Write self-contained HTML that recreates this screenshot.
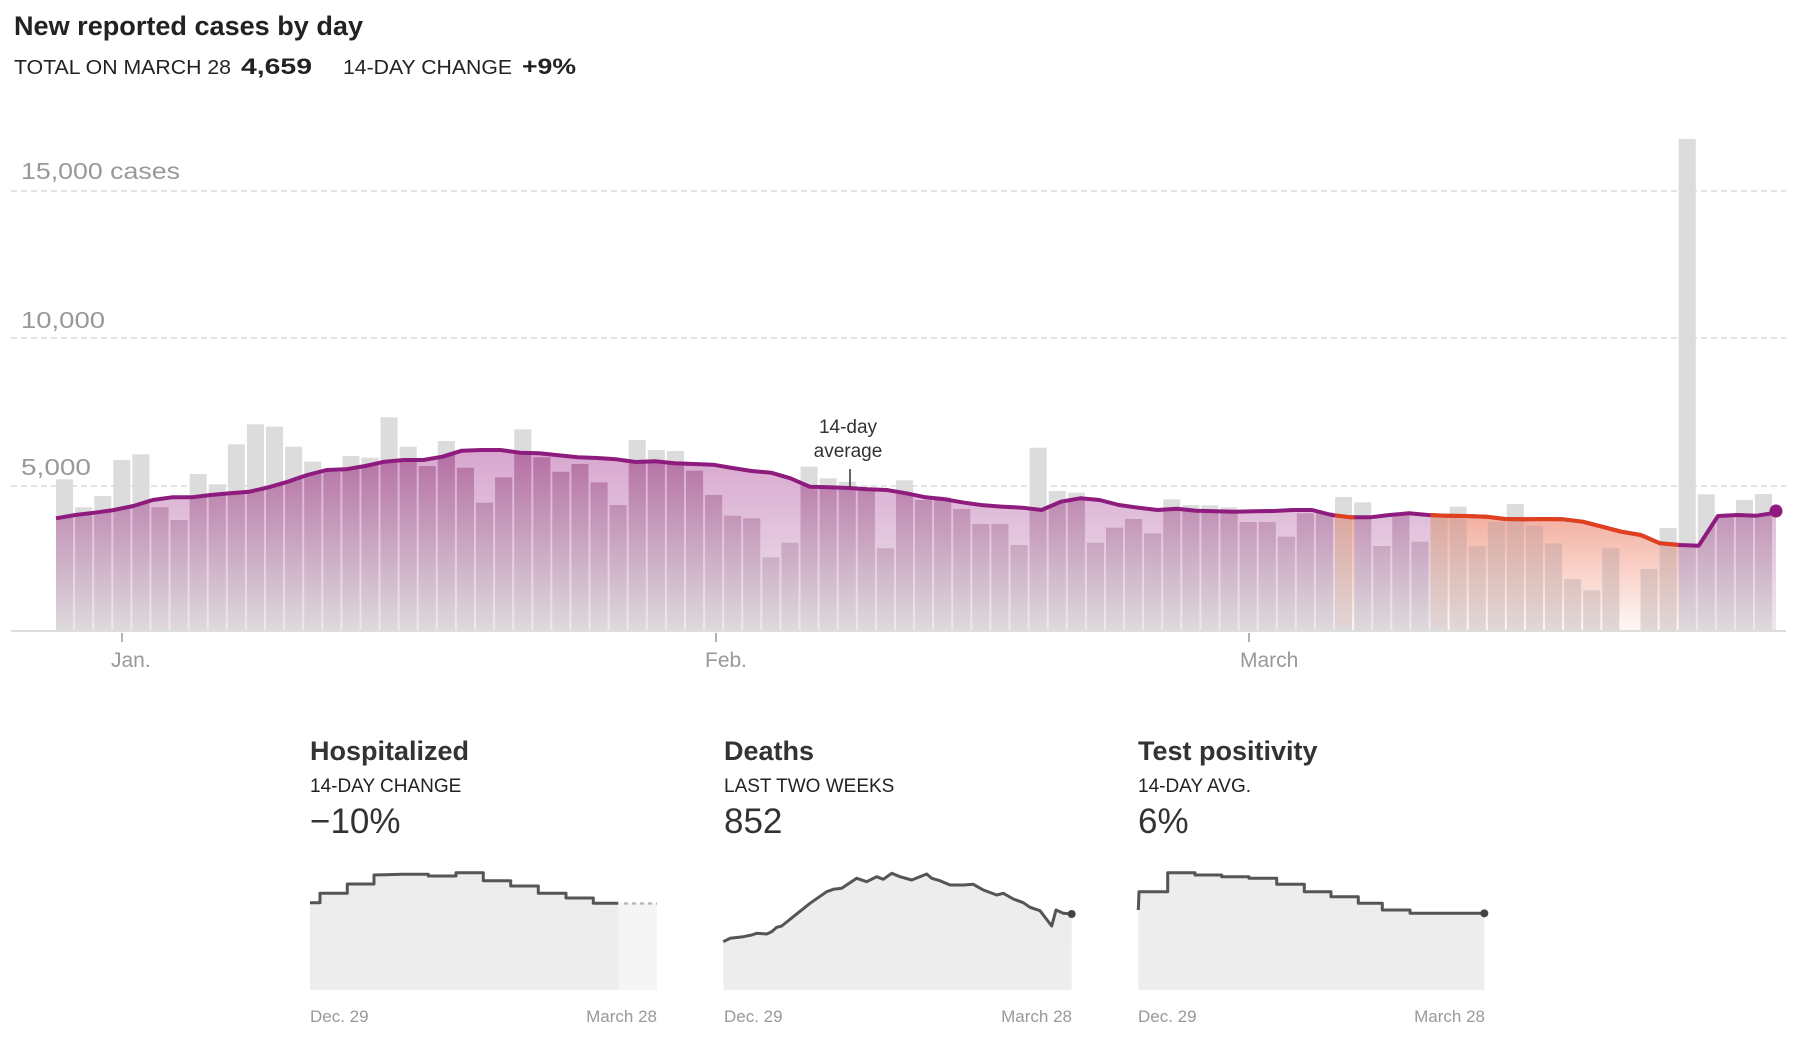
<!DOCTYPE html>
<html><head><meta charset="utf-8"><style>
html,body{margin:0;padding:0;background:#fff;width:1800px;height:1039px;overflow:hidden}
svg{display:block}
text{font-family:"Liberation Sans",sans-serif}
</style></head><body>
<svg id="s" width="1800" height="1039" viewBox="0 0 1800 1039" xmlns="http://www.w3.org/2000/svg">
<defs>
<linearGradient id="gBar" gradientUnits="userSpaceOnUse" x1="0" y1="420" x2="0" y2="631"><stop offset="0" stop-color="#ad5b99"/><stop offset="1" stop-color="#dedadd"/></linearGradient>
<linearGradient id="gArea" gradientUnits="userSpaceOnUse" x1="0" y1="420" x2="0" y2="631"><stop offset="0" stop-color="#d49bca"/><stop offset="1" stop-color="#efe9ed"/></linearGradient>
<linearGradient id="rBar" gradientUnits="userSpaceOnUse" x1="0" y1="500" x2="0" y2="631"><stop offset="0" stop-color="#dba096"/><stop offset="1" stop-color="#e0d8d8"/></linearGradient>
<linearGradient id="rArea" gradientUnits="userSpaceOnUse" x1="0" y1="500" x2="0" y2="631"><stop offset="0" stop-color="#f2a595"/><stop offset="1" stop-color="#fff8f6"/></linearGradient>
</defs>
<text x="14" y="35" font-size="27" font-weight="bold" fill="#222" textLength="349" lengthAdjust="spacingAndGlyphs">New reported cases by day</text>
<text x="14" y="74" font-size="20" fill="#222" textLength="217" lengthAdjust="spacingAndGlyphs">TOTAL ON MARCH 28</text>
<text x="241" y="74" font-size="22" font-weight="bold" fill="#222" textLength="71" lengthAdjust="spacingAndGlyphs">4,659</text>
<text x="343" y="74" font-size="20" fill="#222" textLength="169" lengthAdjust="spacingAndGlyphs">14-DAY CHANGE</text>
<text x="522" y="74" font-size="22" font-weight="bold" fill="#222" textLength="54" lengthAdjust="spacingAndGlyphs">+9%</text>
<g stroke="#d4d4d4" stroke-width="1.3" stroke-dasharray="6,4">
<line x1="11" y1="191" x2="1786" y2="191"/><line x1="11" y1="338" x2="1786" y2="338"/><line x1="11" y1="486" x2="1786" y2="486"/></g>
<text x="21" y="179" font-size="23" fill="#999" textLength="159" lengthAdjust="spacingAndGlyphs">15,000 cases</text>
<text x="21" y="328" font-size="23" fill="#999" textLength="84" lengthAdjust="spacingAndGlyphs">10,000</text>
<text x="21" y="475" font-size="23" fill="#999" textLength="70" lengthAdjust="spacingAndGlyphs">5,000</text>
<g id="chart"></g>
<line x1="11" y1="631" x2="1786" y2="631" stroke="#ddd" stroke-width="2"/>
<g stroke="#999" stroke-width="1.5"><line x1="122" y1="633" x2="122" y2="642"/><line x1="716" y1="633" x2="716" y2="642"/><line x1="1249" y1="633" x2="1249" y2="642"/></g>
<g font-size="21" fill="#999"><text x="111" y="667">Jan.</text><text x="705" y="667">Feb.</text><text x="1240" y="667">March</text></g>
<text x="848" y="433" font-size="19" fill="#333" text-anchor="middle">14-day</text>
<text x="848" y="457" font-size="19" fill="#333" text-anchor="middle">average</text>
<line x1="850" y1="469" x2="850" y2="487" stroke="#333" stroke-width="1.5"/>

<g fill="#222">
<text x="310" y="760" font-size="27" font-weight="bold" fill="#333">Hospitalized</text>
<text x="310" y="792" font-size="19">14-DAY CHANGE</text>
<text x="310" y="833" font-size="35" fill="#333">−10%</text>
<text x="724" y="760" font-size="27" font-weight="bold" fill="#333">Deaths</text>
<text x="724" y="792" font-size="19">LAST TWO WEEKS</text>
<text x="724" y="833" font-size="35" fill="#333">852</text>
<text x="1138" y="760" font-size="27" font-weight="bold" fill="#333">Test positivity</text>
<text x="1138" y="792" font-size="19">14-DAY AVG.</text>
<text x="1138" y="833" font-size="35" fill="#333">6%</text>
</g>
<g font-size="17" fill="#999">
<text x="310" y="1022">Dec. 29</text><text x="657" y="1022" text-anchor="end">March 28</text>
<text x="724" y="1022">Dec. 29</text><text x="1072" y="1022" text-anchor="end">March 28</text>
<text x="1138" y="1022">Dec. 29</text><text x="1485" y="1022" text-anchor="end">March 28</text>
</g>
<g id="sm"></g>
</svg>
<script>
var NS="http://www.w3.org/2000/svg";
function el(t,a,p){var e=document.createElementNS(NS,t);for(var k in a)e.setAttribute(k,a[k]);(p||document.getElementById('chart')).appendChild(e);return e;}
var bz=[238,322,288,180,163,322,360,222,253,133,73,80,140,185,215,168,173,52,140,198,123,203,308,232,88,172,215,192,247,315,120,150,153,212,285,347,355,472,428,200,235,245,272,445,241,300,290,327,372,372,435,143,273,278,428,383,357,400,298,315,316,322,366,366,410,340,336,291,307,438,345,425,350,320,438,365,312,377,430,537,571,445,null,507,384,-783,283,345,300,282];
var lz=[355,345,338,330,318,300,292,292,285,280,275,262,245,225,210,208,198,185,180,180,170,152,150,150,158,160,166,172,174,178,186,184,190,192,194,204,213,218,235,260,262,264,268,270,280,292,298,308,316,320,323,330,305,295,300,315,323,330,326,332,334,335,334,333,330,330,345,352,352,345,340,345,347,348,350,357,358,357,358,365,380,395,405,430,435,437,348,345,347,338];
var step=19.09,x0=56,base=631;
var g=document.getElementById('chart');
var defs=document.querySelector('defs');
var pts=[];for(var i=0;i<90;i++){pts.push([x0+i*(1776-x0)/89,400+lz[i]/3]);}
var lineD="M"+pts.map(function(p){return p[0].toFixed(1)+","+p[1].toFixed(1)}).join("L");
var areaD=lineD+"L"+pts[89][0]+","+base+"L"+x0+","+base+"Z";
var cp=el('clipPath',{id:'ca'},defs);el('path',{d:areaD},cp);
var rr=el('clipPath',{id:'cr'},defs);
el('rect',{x:1335,y:0,width:19.5,height:700},rr);el('rect',{x:1430.5,y:0,width:248,height:700},rr);
function bars(parent,fill){for(var i=0;i<90;i++){if(bz[i]===null)continue;var y=400+bz[i]/3;el('rect',{x:(x0+i*step).toFixed(1),y:y.toFixed(1),width:17.1,height:(base-y).toFixed(1),fill:fill},parent);}}
bars(g,'#dcdcdc');
el('path',{d:areaD,fill:'url(#gArea)'},g);
var gb=el('g',{'clip-path':'url(#ca)'},g);bars(gb,'url(#gBar)');
var gr=el('g',{'clip-path':'url(#cr)'},g);
el('path',{d:areaD,fill:'url(#rArea)'},gr);
var gr2=el('g',{'clip-path':'url(#ca)'},gr);bars(gr2,'url(#rBar)');
el('path',{d:lineD,fill:'none',stroke:'#8e1b7e','stroke-width':4,'stroke-linejoin':'round'},g);
var gr3=el('g',{'clip-path':'url(#cr)'},g);
el('path',{d:lineD,fill:'none',stroke:'#e0401e','stroke-width':4,'stroke-linejoin':'round'},gr3);
el('circle',{cx:1776,cy:511,r:6.5,fill:'#8e1b7e'},g);
var sm=document.getElementById('sm');
function P(bx,by,arr){return arr.map(function(p){return [bx+p[0]/3,by+p[1]/3];});}
function draw(pts,x1,x2,by){var d="M"+pts.map(function(p){return p[0].toFixed(1)+","+p[1].toFixed(1)}).join("L");
 el('path',{d:d+"L"+pts[pts.length-1][0]+","+by+"L"+pts[0][0]+","+by+"Z",fill:'#ededed'},sm);
 el('path',{d:d,fill:'none',stroke:'#555','stroke-width':3,'stroke-linejoin':'round'},sm);}
var h=P(290,720,[[60,548],[90,548],[90,520],[172,520],[172,492],[252,492],[252,465],[335,463],[415,463],[415,468],[498,468],[498,458],[580,458],[580,482],[662,482],[662,498],[745,498],[745,520],[828,520],[828,534],[910,534],[910,550],[985,550]]);
el('rect',{x:618,y:903,width:39,height:87,fill:'#f5f5f5'},sm);
draw(h,310,618,990);
el('line',{x1:624,y1:903.5,x2:657,y2:903.5,stroke:'#bbb','stroke-width':2.5,'stroke-dasharray':'4,4'},sm);
var d=P(710,720,[[40,665],[60,655],[100,650],[125,645],[140,640],[170,642],[185,635],[200,622],[215,618],[250,590],[300,550],[350,515],[370,508],[395,505],[440,475],[470,485],[500,470],[520,478],[545,460],[570,470],[605,480],[650,462],[665,475],[690,482],[720,495],[760,495],[790,493],[820,510],[860,525],[880,520],[910,537],[940,548],[960,562],[990,572],[1025,618],[1038,570],[1060,580],[1085,582]]);
draw(d,724,1072,990);el('circle',{cx:710+1085/3,cy:720+582/3,r:4,fill:'#444'},sm);
var t=P(1125,720,[[40,570],[42,515],[128,515],[128,458],[210,458],[210,465],[290,465],[290,470],[372,470],[372,475],[455,475],[455,493],[538,493],[538,515],[618,515],[618,530],[700,530],[700,550],[772,550],[772,570],[855,570],[855,580],[1078,580]]);
draw(t,1138,1485,990);el('circle',{cx:1125+1078/3,cy:720+580/3,r:4,fill:'#444'},sm);
</script>
</body></html>
